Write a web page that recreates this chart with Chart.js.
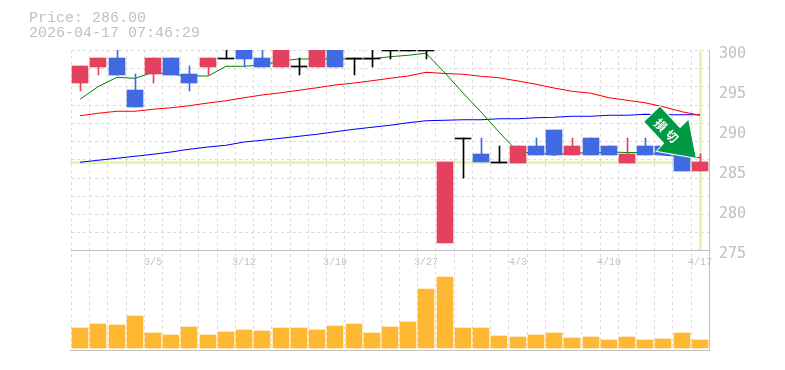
<!DOCTYPE html>
<html lang="ja">
<head>
<meta charset="UTF-8">
<title>Price chart</title>
<script src="https://cdn.jsdelivr.net/npm/chart.js"></script>
<style>
    html, body { margin: 0; background: #fff; }
    #wrap { position: relative; width: 785px; height: 370px; overflow: hidden; }
    #info { position: absolute; left: 29px; top: 11px; font: 15px/15px "Liberation Mono", monospace; color: #c0c0c0; white-space: pre; }
</style>
</head>
<body>
<div id="wrap">
    <canvas id="chartCanvas" width="785" height="370"></canvas>
    <div id="info">Price: 286.00
2026-04-17 07:46:29</div>
</div>

<script>
    const dates = ['2/27','3/2','3/3','3/4','3/5','3/6','3/9','3/10','3/11','3/12','3/13','3/16','3/17','3/18','3/19','3/23','3/24','3/25','3/26','3/27','3/30','3/31','4/1','4/2','4/3','4/6','4/7','4/8','4/9','4/10','4/13','4/14','4/15','4/16','4/17'];
    const dateTicks = ['3/5','3/12','3/19','3/27','4/3','4/10','4/17'];
    const priceTicks = [275,280,285,290,295,300];
    const gridPrices = [299.93,297.65,295.38,293.1,290.83,288.55,286.28,284,281.73,279.45,277.18];
    const currentPrice = 286;

    // r = red, b = blue, k = black (doji)
    const kinds = ['r','r','b','b','r','b','b','r','k','b','b','r','k','r','b','k','k','k','k','k','r','k','b','k','r','b','b','r','b','b','r','b','b','b','r'];
    const bodyTop = [298,299,299,295,299,299,297,299,299,301,299,301,298,301,301,299,299,300,300,300,286,289,287,286,288,288,290,288,289,288,287,288,288,287,286];
    const bodyBottom = [295.875,297.875,296.875,292.875,297,296.875,295.875,297.875,298.875,298.875,297.875,297.875,297.875,297.875,297.875,298.875,298.875,299.875,299.875,299.875,275.875,288.875,286,285.875,285.875,286.875,286.875,286.875,286.875,286.875,285.875,286.875,286.875,284.875,284.875];
    const highs = [298,299,301,297,299,299,298,299,301,301,301,301,299,301,301,299,301,300,300,300,286,289,289,288,288,289,290,289,289,288,289,289,288,287,287];
    const lows = [294.875,296.875,296.875,292.875,295.875,296.875,294.875,296.875,298.875,297.875,297.875,297.875,296.875,297.875,297.875,296.875,297.875,298.875,299.875,298.875,275.875,284,286,285.875,285.875,286.875,286.875,286.875,286.875,286.875,285.875,286.875,286.875,284.875,284.875];

    const maShort = [293.84,295.41,296.59,296.46,297.21,296.96,296.75,296.75,297.96,297.96,298.13,298.63,298.88,298.88,298.88,298.88,298.88,299.16,299.34,299.59,297.13,294.63,292.25,289.75,287.25,287.13,286.88,287.13,287.13,287.25,287.19,287.16,286.88,286.63,286.54];
    const maMiddle = [291.79,292.09,292.34,292.34,292.59,292.79,293.04,293.38,293.66,294.04,294.38,294.66,294.96,295.29,295.63,295.88,296.16,296.46,296.75,297.21,297.06,296.96,296.71,296.54,296.13,295.71,295.25,294.84,294.59,294.04,293.71,293.41,292.91,292.29,291.84];
    const maLong = [285.96,286.21,286.46,286.71,286.96,287.25,287.59,287.88,288.09,288.5,288.71,288.96,289.21,289.46,289.79,290.09,290.34,290.59,290.91,291.16,291.21,291.29,291.29,291.41,291.41,291.54,291.59,291.71,291.71,291.84,291.84,291.96,291.91,291.91,291.91];

    const volumes = [20,24,23,32,15,13,21,13,16,18,17,20,20,18,22,24,15,21,26,59,71,20,20,12,11,13,15,10,11,8,11,8,9,15,8];

    const kindColors = { r: '#e4415f', b: '#4169e1', k: '#000000' };
    const candleColors = kinds.map(k => kindColors[k]);
    const bodies = bodyTop.map((t, i) => kinds[i] == 'k' ? [t - 0.125, t] : [bodyBottom[i], t]);
    const wicks = highs.map((h, i) => [lows[i], h]);

    // current price lines, bottom frame line and the arrow
    const overlayPlugin = {
        id: 'overlay',
        afterDatasetsUpdate(chart) {
            // 1px wicks sit on a pixel, not between two
            chart.getDatasetMeta(2).data.forEach(bar => { bar.x += 0.5; });
        },
        beforeDatasetsDraw(chart) {
            const ctx = chart.ctx, area = chart.chartArea;
            const y = chart.scales.y.getPixelForValue(currentPrice);
            const x = chart.scales.x.getPixelForValue(dates.length - 1);
            ctx.save();
            ctx.fillStyle = '#e3f5ae';
            ctx.fillRect(area.left - 1, Math.round(y) - 1, area.right - area.left, 3);
            ctx.fillRect(x - 1, area.top, 3, chart.scales.y.bottom - area.top);
            ctx.fillStyle = '#c0c0c0';
            ctx.fillRect(area.left - 1, area.bottom, area.right - area.left + 2, 1);
            ctx.restore();
        },
        afterDatasetsDraw(chart) {
            const ctx = chart.ctx;
            ctx.save();
            ctx.beginPath();
            ctx.moveTo(660, 106.7);
            ctx.lineTo(680, 128.3);
            ctx.lineTo(688.3, 120);
            ctx.lineTo(695.7, 157.7);
            ctx.lineTo(657.3, 151);
            ctx.lineTo(664.3, 143.3);
            ctx.lineTo(644.3, 121.7);
            ctx.closePath();
            ctx.lineWidth = 2;
            ctx.strokeStyle = '#ffffff';
            ctx.stroke();
            ctx.fillStyle = '#009944';
            ctx.fill();
            ctx.fillStyle = '#ffffff';
            ctx.font = 'bold 12px "Noto Sans CJK JP"';
            ctx.textAlign = 'center';
            ctx.textBaseline = 'middle';
            ctx.translate(660.7, 125);
            ctx.rotate(Math.PI / 4);
            ctx.fillText('損', 0, 0);
            ctx.fillText('切', 16, 0);
            ctx.restore();
        }
    };

    const gridColor = '#dcdcdc';
    const labelFont = { family: '"Liberation Mono", monospace', size: 10 };

    new Chart(document.getElementById('chartCanvas'), {
        type: 'bar',
        plugins: [overlayPlugin],
        data: {
            labels: dates,
            datasets: [
                { label: 'Volume', data: volumes, yAxisID: 'yVol', backgroundColor: '#ffb833', barThickness: 16, grouped: false, order: 1 },
                { label: 'Body', data: bodies, yAxisID: 'y', backgroundColor: candleColors, barThickness: 16, grouped: false, order: 1 },
                { label: 'Wick', data: wicks, yAxisID: 'y', backgroundColor: candleColors, barThickness: 1, grouped: false, order: 2 },
                { type: 'line', label: 'MA short', data: maShort, yAxisID: 'y', borderColor: '#008000', borderWidth: 1, pointRadius: 0, tension: 0, order: 3 },
                { type: 'line', label: 'MA middle', data: maMiddle, yAxisID: 'y', borderColor: '#ff0000', borderWidth: 1.1, pointRadius: 0, tension: 0, order: 4 },
                { type: 'line', label: 'MA long', data: maLong, yAxisID: 'y', borderColor: '#0000ff', borderWidth: 1.1, pointRadius: 0, tension: 0, order: 5 }
            ]
        },
        options: {
            responsive: false,
            animation: false,
            layout: { padding: { left: 71, top: 50, bottom: 20, right: 0 } },
            plugins: { legend: { display: false }, tooltip: { enabled: false } },
            scales: {
                x: {
                    position: { yVol: 98 },
                    offset: true,
                    afterFit(scale) {
                        // candles land on whole pixels
                        if (scale.roundedPixels) return;
                        scale.roundedPixels = true;
                        const getPixel = scale.getPixelForValue;
                        scale.getPixelForValue = function (value, index) {
                            return Math.round(getPixel.call(scale, value, index));
                        };
                    },
                    grid: { offset: true, color: gridColor, drawTicks: false },
                    border: { display: true, color: '#c0c0c0', dash: [3, 3] },
                    ticks: {
                        autoSkip: false, maxRotation: 0, padding: 6, color: '#c4c4c4', font: labelFont,
                        callback(value) {
                            const label = dates[value];
                            return dateTicks.includes(label) ? label : '';
                        }
                    }
                },
                y: {
                    position: 'right',
                    stack: 'panes',
                    stackWeight: 2,
                    weight: 0,
                    min: 275,
                    max: 300,
                    afterFit(scale) { scale.width = 76; },
                    afterBuildTicks(scale) {
                        scale.ticks = priceTicks.concat(gridPrices).map(v => ({ value: v }));
                    },
                    grid: {
                        drawTicks: false,
                        color: ctx => gridPrices.includes(ctx.tick.value) ? gridColor : 'rgba(0,0,0,0)'
                    },
                    border: { display: true, color: '#c0c0c0', dash: [3, 3] },
                    ticks: {
                        autoSkip: false, padding: 10, labelOffset: 4, color: '#c0c0c0',
                        font: { family: '"DejaVu Sans Mono", monospace', size: 15 },
                        callback: value => priceTicks.includes(value) ? value : ''
                    }
                },
                yVol: {
                    position: 'right',
                    stack: 'panes',
                    stackWeight: 1,
                    weight: 1,
                    min: -2,
                    max: 98,
                    afterFit(scale) { scale.width = 76; },
                    grid: { display: false },
                    border: { display: true, color: '#c0c0c0' },
                    ticks: { display: false }
                }
            }
        }
    });
</script>
</body>
</html>
